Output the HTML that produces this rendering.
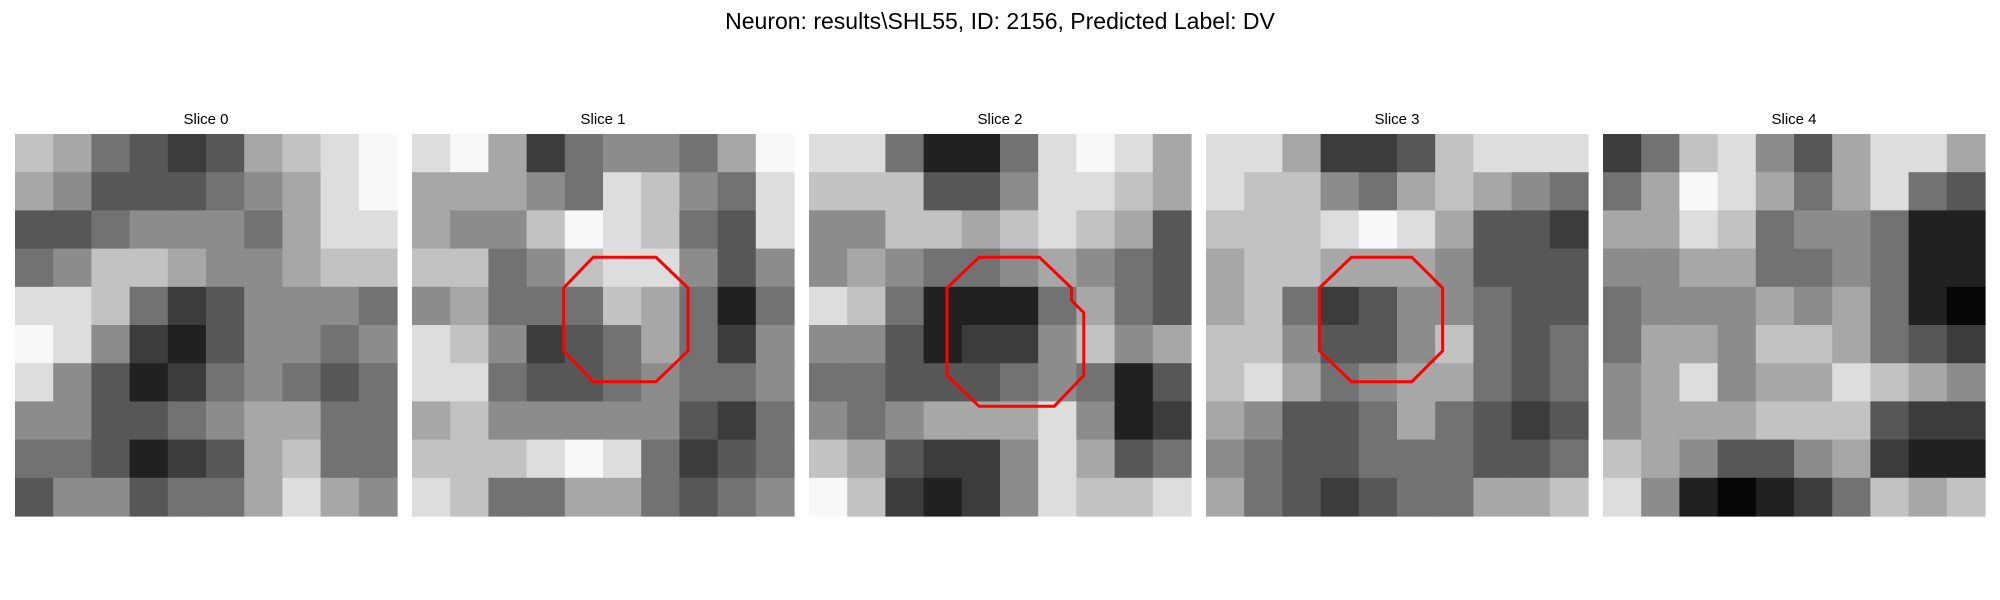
<!DOCTYPE html>
<html><head><meta charset="utf-8"><style>
html,body{margin:0;padding:0;background:#fff;}
body{width:2000px;height:600px;position:relative;overflow:hidden;font-family:"Liberation Sans",sans-serif;}
#title{position:absolute;left:0;width:2000px;top:8px;text-align:center;font-size:23px;color:#000;}
</style></head><body>
<div id="title">Neuron: results\SHL55, ID: 2156, Predicted Label: DV</div>
<svg id="fig" width="2000" height="600" style="position:absolute;left:0;top:0"></svg>
<script>
const sliceLabels = ["Slice 0","Slice 1","Slice 2","Slice 3","Slice 4"];
const slice0 = ["7643236789","6533345689","3345554688","4577655677","8874235554","9852135545","8531245434","5533456644","4431236744","3553446865"];
const slice1 = ["8962455469","6665487548","6557987438","7745788535","5644476414","8752346425","8843345445","6755555324","7778984234","8744664345"];
const slice2 = ["8841148986","7773358876","5577678763","5654456543","8741114643","5531225756","4433345413","5456668512","7632258634","9721258778"];
const slice3 = ["8862237888","8775467654","7778986332","6776665333","6742355433","7753357434","7864566434","6533464323","5433444334","6432344667"];
const slice4 = ["2478536886","4698646843","6687455411","5566445411","4555656410","4665776432","5685668765","5666777322","7653356211","8510124767"];
const grids = [slice0, slice1, slice2, slice3, slice4];
const outline1 = [[14.7,10],[19.8,10],[22.4,12.5],[22.4,17.6],[19.8,20.1],[14.7,20.1],[12.3,17.6],[12.3,12.5]];
const outline2 = [[13.8,10],[18.7,10],[21.3,12.5],[21.3,13.5],[22.3,14.5],[22.3,19.6],[19.9,22.1],[13.8,22.1],[11.2,19.6],[11.2,12.5]];
const outline3 = [[11.8,10],[16.7,10],[19.2,12.5],[19.2,17.6],[16.7,20.1],[11.8,20.1],[9.2,17.6],[9.2,12.5]];
const outlines = [null, outline1, outline2, outline3, null];

const NS="http://www.w3.org/2000/svg";
const svg=document.getElementById('fig');
const X0=15, STEP=397, Y0=134, SIZE=382;
function gray(v){const g=Math.round(6+v*(248-6)/9);return `rgb(${g},${g},${g})`;}
grids.forEach((grid,k)=>{
  const px=X0+k*STEP;
  const g=document.createElementNS(NS,'g');
  
  
  svg.appendChild(g);
  const n=grid.length, cs=SIZE/n;
  grid.forEach((row,r)=>{
    for(let c=0;c<row.length;c++){
      const rect=document.createElementNS(NS,'rect');
      rect.setAttribute('x',(px+c*cs).toFixed(2));
      rect.setAttribute('y',(Y0+r*cs).toFixed(2));
      rect.setAttribute('width',(cs+0.6).toFixed(2));
      rect.setAttribute('height',(cs+0.6).toFixed(2));
      rect.setAttribute('fill',gray(+row[c]));
      
      
      g.appendChild(rect);
    }
  });
  const t=document.createElementNS(NS,'text');
  t.setAttribute('x',px+SIZE/2);t.setAttribute('y',Y0-10);
  t.setAttribute('text-anchor','middle');t.setAttribute('font-size','15');
  t.setAttribute('font-family','Liberation Sans, sans-serif');
  t.textContent=sliceLabels[k];
  
  
  svg.appendChild(t);
  const o=outlines[k];
  if(o){
    const pc=SIZE/31;
    const p=document.createElementNS(NS,'polygon');
    p.setAttribute('points',o.map(q=>(px+q[0]*pc).toFixed(1)+','+(Y0+q[1]*pc).toFixed(1)).join(' '));
    p.setAttribute('fill','none');p.setAttribute('stroke','#ff0000');p.setAttribute('stroke-width','3');
    
    
    svg.appendChild(p);
  }
});
</script>
</body></html>
